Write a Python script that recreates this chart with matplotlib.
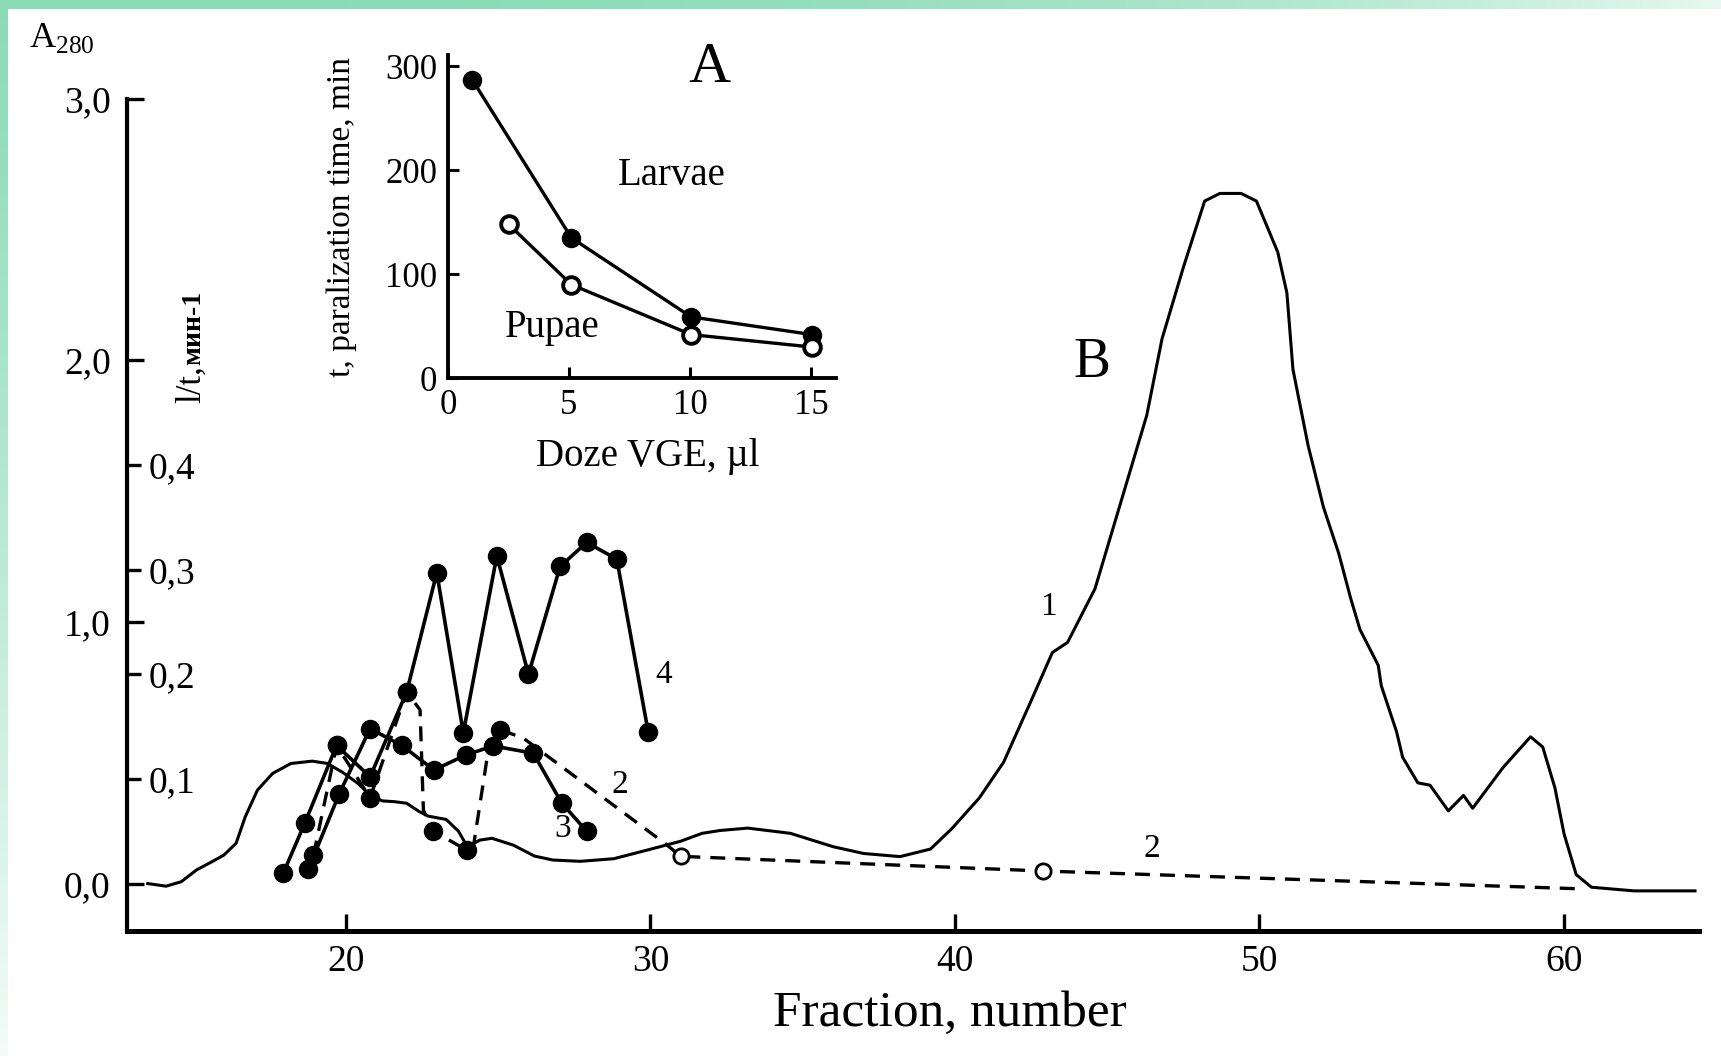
import numpy as np
import matplotlib
matplotlib.use('Agg')
from matplotlib import pyplot as plt

plt.rcParams['font.family'] = ['Liberation Serif', 'DejaVu Serif']
plt.rcParams['mathtext.fontset'] = 'custom'
plt.rcParams['mathtext.rm'] = 'Liberation Serif'

# --- B: elution profile, A280 (curve 1) ---
a280_frac = [13.5, 14.1, 14.6, 15.1, 15.6, 16.0, 16.4, 16.7, 17.1, 17.6, 18.2, 18.9,
             19.4, 19.9, 20.4, 20.8, 21.2, 21.6, 22.0, 22.4, 22.7, 23.3, 23.7, 24.0,
             24.4, 24.8, 25.5, 26.2, 26.8, 27.7, 28.8, 29.9, 31.0, 31.7, 32.3, 33.2,
             34.6, 36.0, 37.0, 38.2, 39.2, 39.9, 40.8, 41.6, 42.5, 43.2, 43.7, 44.6,
             45.4, 46.3, 46.8, 47.5, 48.2, 48.7, 49.4, 49.9, 50.6, 50.9, 51.1, 51.6,
             52.1, 52.6, 53.0, 53.3, 53.9, 54.0, 54.5, 54.7, 55.2, 55.6, 56.2, 56.7,
             57.0, 58.0, 58.9, 59.3, 59.7, 60.0, 60.4, 60.9, 62.3, 64.3]
a280_val = [0.000, -0.010, 0.007, 0.052, 0.083, 0.109, 0.154, 0.255, 0.357, 0.421, 0.459, 0.468,
            0.459, 0.425, 0.383, 0.338, 0.316, 0.313, 0.307, 0.276, 0.258, 0.245, 0.200, 0.140,
            0.166, 0.173, 0.147, 0.105, 0.090, 0.085, 0.095, 0.128, 0.162, 0.192, 0.203, 0.212,
            0.192, 0.141, 0.115, 0.103, 0.132, 0.210, 0.327, 0.464, 0.698, 0.883, 0.922, 1.127,
            1.439, 1.790, 2.082, 2.355, 2.609, 2.638, 2.638, 2.609, 2.414, 2.258, 1.965, 1.673,
            1.439, 1.263, 1.088, 0.971, 0.834, 0.756, 0.581, 0.483, 0.385, 0.376, 0.278, 0.337,
            0.288, 0.444, 0.561, 0.522, 0.366, 0.190, 0.034, -0.014, -0.028, -0.028]

# activity 1/t, min-1 (curves 2, 3, 4)
c2_frac = [18.94, 19.70, 20.80, 22.00, 22.88, 23.97, 25.07]
c2_act = [0.027, 0.132, 0.082, 0.183, 0.050, 0.032, 0.147]
c2_open_frac = [31.0, 42.9]
c2_open_act = [0.026, 0.012]
c2_line_frac = [18.94, 19.70, 20.80, 22.00, 22.44, 22.55, 22.88, 23.97, 24.19, 24.63,
                25.07, 25.83, 30.54, 31.0, 42.9, 60.5]
c2_line_act = [0.027, 0.132, 0.082, 0.183, 0.166, 0.070, 0.050, 0.032, 0.035, 0.118,
               0.147, 0.139, 0.037, 0.026, 0.012, -0.005]

c3_frac = [18.77, 19.79, 20.80, 21.84, 22.90, 23.95, 24.85, 26.16, 27.09, 27.91]
c3_act = [0.0135, 0.086, 0.148, 0.132, 0.1085, 0.123, 0.1315, 0.1245, 0.077, 0.050]

c4_frac = [17.95, 18.66, 19.70, 20.80, 22.00, 22.99, 23.86, 24.96, 26.0, 27.04, 27.91, 28.9, 29.93]
c4_act = [0.010, 0.058, 0.132, 0.102, 0.183, 0.297, 0.144, 0.313, 0.200, 0.303, 0.326, 0.310, 0.145]

a280_ticks = [0, 1, 2, 3]
a280_labels = ['0,0', '1,0', '2,0', '3,0']
act_ticks = [0.1, 0.2, 0.3, 0.4]
act_labels = ['0,1', '0,2', '0,3', '0,4']
frac_ticks = [20, 30, 40, 50, 60]

# --- A: paralization time vs dose ---
dose_larvae = [1.0, 5.1, 10.05, 15.05]
time_larvae = [287, 135, 59, 42]
dose_pupae = [2.5, 5.1, 10.05, 15.05]
time_pupae = [148, 90, 42, 30]

W, H = 1721, 1056
fig = plt.figure(figsize=(W / 100, H / 100), dpi=100)

# mint frame along top and left edges
bg = fig.add_axes([0, 0, 1, 1], zorder=-5)
img = np.ones((H, W, 3))
mint = np.array([0.55, 0.86, 0.72])
tx = np.linspace(0, 1, W) ** 3
img[:9, :, :] = (mint + (1 - mint) * tx[:, None] * 0.8)[None, :, :]
ty = np.linspace(0, 1, H) ** 1.2
img[:, :8, :] = (mint + (1 - mint) * ty[:, None] * 0.9)[:, None, :]
bg.imshow(img, aspect='auto', interpolation='bilinear')
bg.axis('off')

ax = fig.add_axes([0.0740, 0.1187, 0.9132, 0.7878])
ax.set_facecolor('none')
ax.plot(a280_frac, a280_val, color='black', lw=2.2)
ax.set_xlim(12.83, 64.43)
ax.set_ylim(-0.18, 3.0)
ax.spines[['top', 'right']].set_visible(False)
ax.spines['left'].set_linewidth(3.0)
ax.spines['bottom'].set_linewidth(3.6)
ax.set_xticks(frac_ticks)
ax.set_yticks(a280_ticks)
ax.set_yticklabels(a280_labels)
ax.tick_params(axis='both', direction='in', length=12, width=2.4, labelsize=27)
ax.tick_params(axis='x', pad=10)
ax.tick_params(axis='y', pad=12)

ax2 = ax.twinx()
ax2.set_ylim(-0.045, 0.75)
for s in ['top', 'left', 'bottom', 'right']:
    ax2.spines[s].set_visible(False)
ax2.spines['right'].set_position(('axes', 0))
ax2.set_yticks(act_ticks)
ax2.set_yticklabels(act_labels)
ax2.tick_params(axis='y', direction='out', length=10, width=2.4, labelsize=27, pad=5)

ax2.plot(c2_line_frac, c2_line_act, color='black', lw=2.4, ls=(0, (4.5, 3)))
ax2.plot(c2_frac, c2_act, 'o', color='black', ms=13)
ax2.plot(c2_open_frac, c2_open_act, 'o', mfc='white', mec='black', mew=2.0, ms=11, zorder=4)
ax2.plot(c3_frac, c3_act, '-o', color='black', lw=2.6, ms=13)
ax2.plot(c4_frac, c4_act, '-o', color='black', lw=2.6, ms=13)

ax.text(43.07, 1.057, '1', fontsize=24, ha='center', va='center')
ax.text(29.0, 0.377, '2', fontsize=24, ha='center', va='center')
ax.text(27.13, 0.21, '3', fontsize=24, ha='center', va='center')
ax.text(30.45, 0.797, '4', fontsize=24, ha='center', va='center')
ax.text(46.48, 0.134, '2', fontsize=24, ha='center', va='center')
ax.text(44.5, 1.99, 'B', fontsize=40, ha='center', va='center')

t1 = ax.text(15.22, 1.837, 'l/t,', rotation=90, rotation_mode='anchor',
             ha='left', va='baseline', fontsize=25)
ax.annotate('мин-1', xy=(15.22, 1.0), xycoords=('data', t1), rotation=90,
            rotation_mode='anchor', ha='left', va='baseline', fontsize=20, fontweight='bold')

fig.text(0.017, 0.9555, 'A$_{\\mathregular{280}}$', fontsize=26, ha='left', va='baseline')
fig.text(0.5517, 0.0284, 'Fraction, number', fontsize=37, ha='center', va='baseline')

# inset A
ins = fig.add_axes([0.2604, 0.6418, 0.2252, 0.3062])
ins.set_facecolor('none')
ins.plot(dose_larvae, time_larvae, '-o', color='black', lw=2.4, ms=13)
ins.plot(dose_pupae, time_pupae, '-o', color='black', mfc='white', mew=2.8, lw=2.4, ms=12)
ins.set_xlim(0, 16.03)
ins.set_ylim(0, 311)
ins.spines[['top', 'right']].set_visible(False)
ins.spines[['left', 'bottom']].set_linewidth(2.8)
ins.set_xticks([0, 5, 10, 15])
ins.set_yticks([0, 100, 200, 300])
ins.tick_params(direction='in', length=8, width=2.2, labelsize=25, pad=8)
ins.set_ylabel('t, paralization time, min', fontsize=24)
ins.yaxis.set_label_coords(-0.235, 0.5)
ins.set_xlabel('Doze VGE, µl', fontsize=28)
ins.xaxis.set_label_coords(0.515, -0.185)
ins.text(10.8, 298, 'A', fontsize=42, ha='center', va='center')
ins.text(9.25, 195, 'Larvae', fontsize=28, ha='center', va='center')
ins.text(4.3, 49, 'Pupae', fontsize=28, ha='center', va='center')

fig.savefig('out.png', dpi=100)
